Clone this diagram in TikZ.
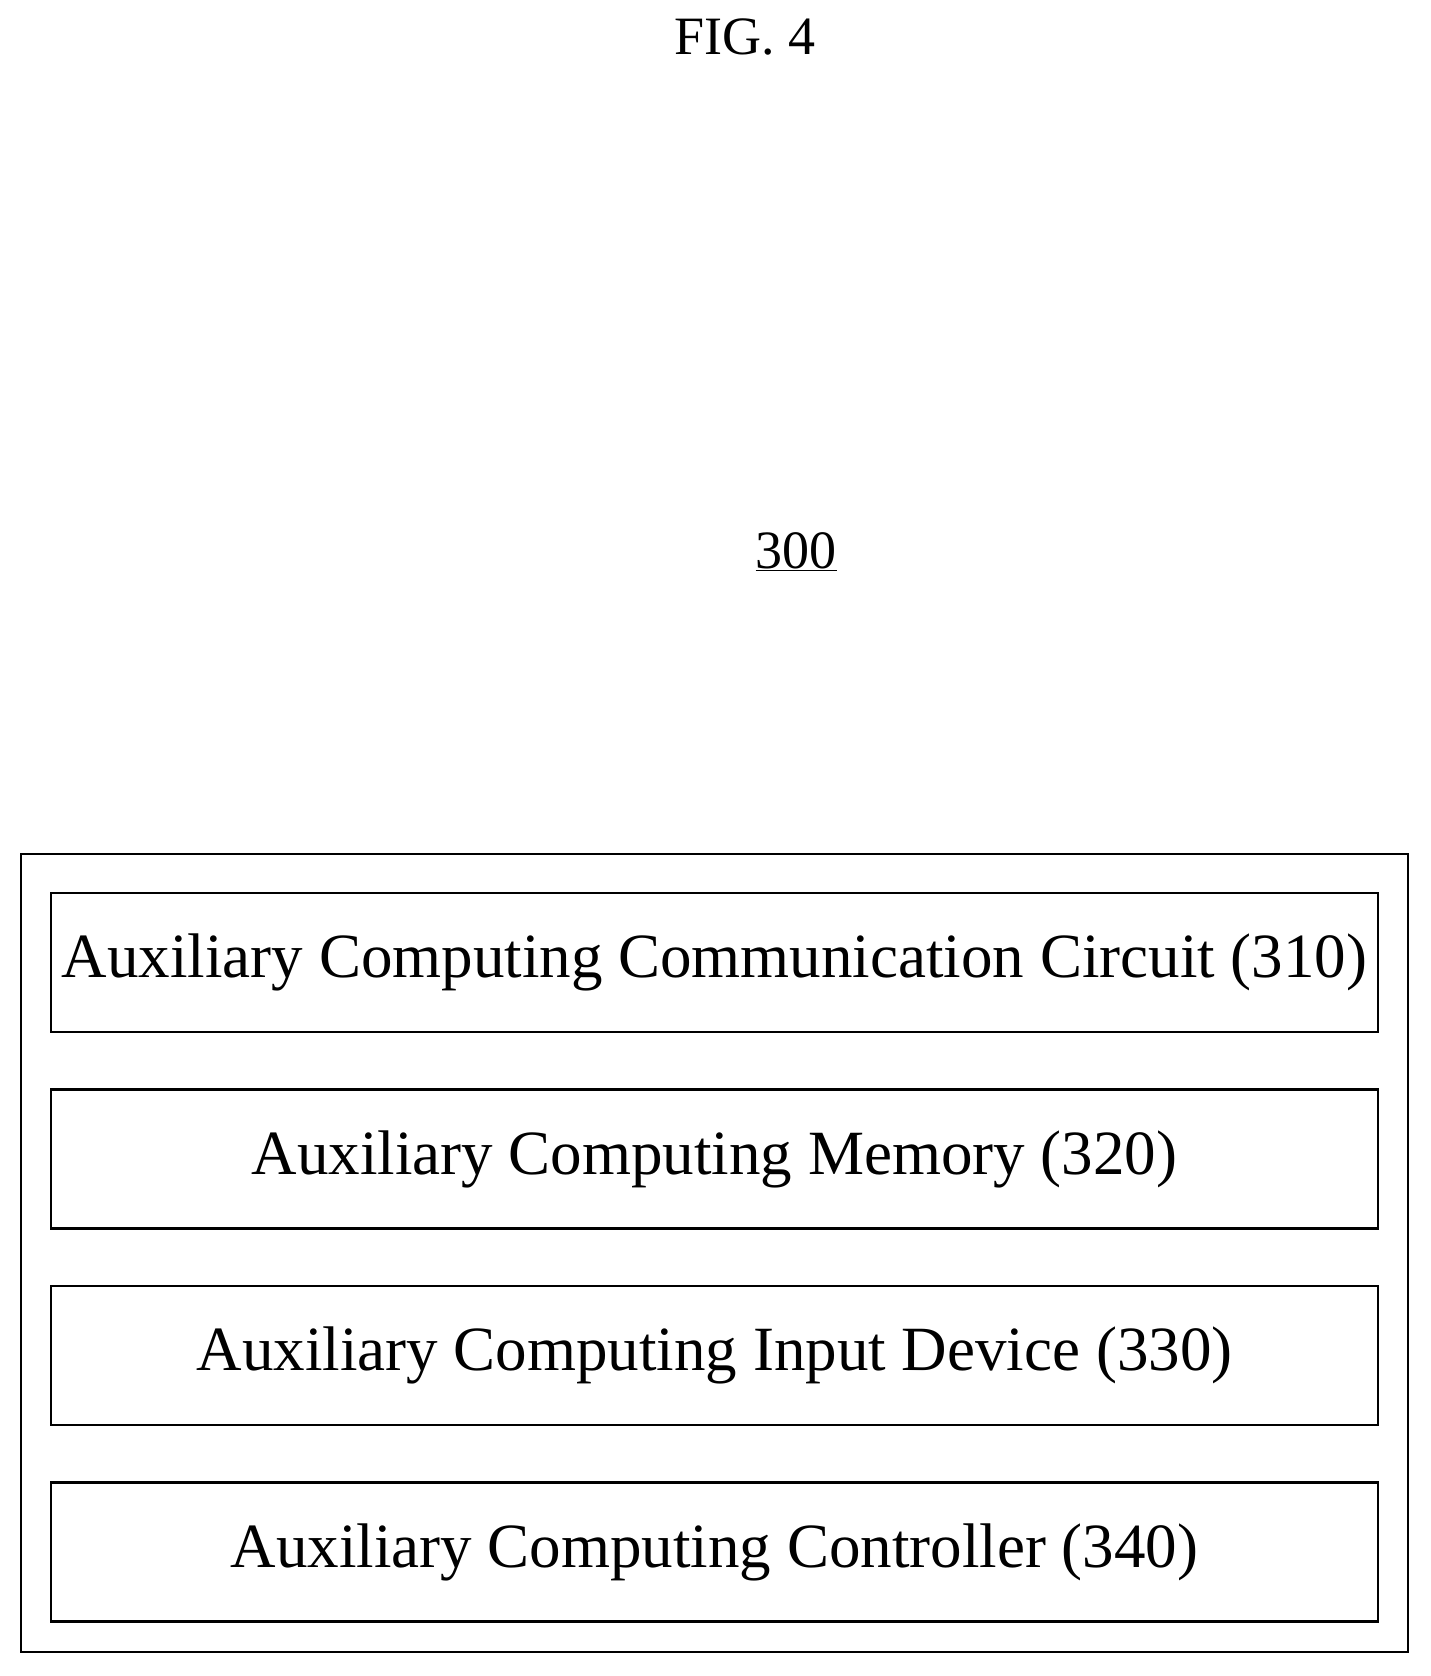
\documentclass[tikz,border=0pt]{standalone}
\usepackage{fontspec}
\setmainfont{Liberation Serif}
\usetikzlibrary{positioning}
\begin{document}
\begin{tikzpicture}[x=1pt,y=-1pt,
        unit/.style={draw, line width=2.5pt, minimum width=1327pt, minimum height=139pt, inner sep=0pt, font=\fontsize{63}{69}\selectfont},
        frame/.style={draw, line width=2pt}
    ]
    \useasboundingbox (0,0) rectangle (1431,1676);

    % Labels
    \node (fig) at (745,37) {\fontsize{54}{60}\selectfont FIG. 4};
    \node (ref) at (796,552) {\fontsize{54}{60}\selectfont \underline{300}};

    % Outer frame
    \draw[frame] (21,854) rectangle (1408,1652);

    % Units
    \node (comm)[unit] at (714.5,962.5) {Auxiliary Computing Communication Circuit (310)};
    \node (mem)[unit, below=55pt of comm] {Auxiliary Computing Memory (320)};
    \node (inp)[unit, below=55pt of mem] {Auxiliary Computing Input Device (330)};
    \node (ctrl)[unit, below=55pt of inp] {Auxiliary Computing Controller (340)};
\end{tikzpicture}
\end{document}
